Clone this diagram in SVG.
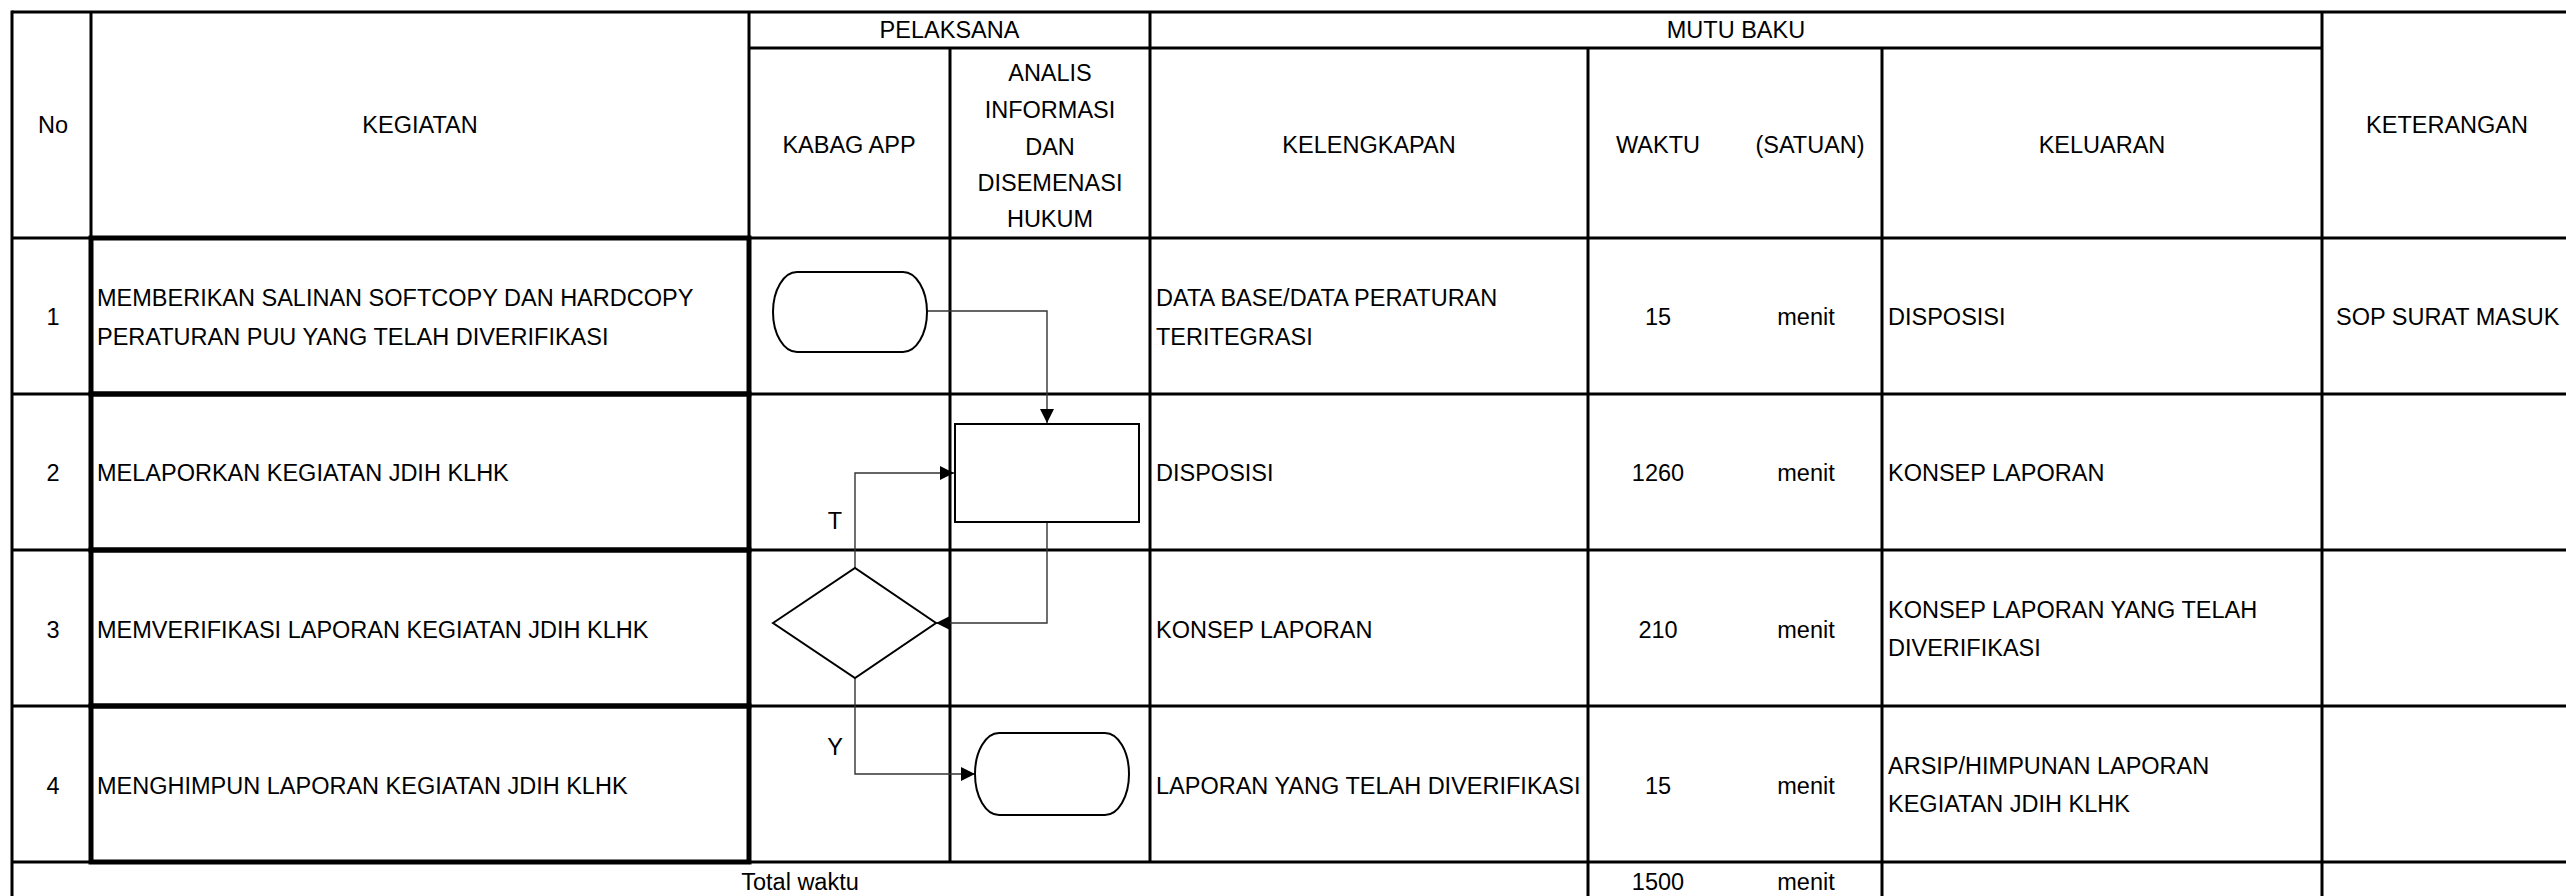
<svg xmlns="http://www.w3.org/2000/svg" width="2566" height="896" viewBox="0 0 2566 896">
<style>
text{font-family:"Liberation Sans",Arial,sans-serif;font-size:23.5px;fill:#000;dominant-baseline:central}
.c{text-anchor:middle}
.grid{stroke:#000;stroke-width:3;fill:none}
.keg{stroke:#000;stroke-width:5;fill:none}
.shape{stroke:#000;stroke-width:2;fill:#fff}
.conn{stroke:#333;stroke-width:1.4;fill:none}
</style>
<defs>
<marker id="arr" viewBox="0 0 10 10" refX="10" refY="5" markerWidth="15" markerHeight="14" markerUnits="userSpaceOnUse" orient="auto">
<path d="M0,0 L10,5 L0,10 z" fill="#000"/>
</marker>
</defs>
<rect width="2566" height="896" fill="#fff"/>
<g id="grid">
<line class="grid" x1="12" y1="12" x2="2566" y2="12"/>
<line class="grid" x1="12" y1="10.5" x2="12" y2="896"/>
<line class="grid" x1="91" y1="12" x2="91" y2="862"/>
<line class="grid" x1="749" y1="12" x2="749" y2="862"/>
<line class="grid" x1="950" y1="48" x2="950" y2="862"/>
<line class="grid" x1="1150" y1="12" x2="1150" y2="862"/>
<line class="grid" x1="1588" y1="48" x2="1588" y2="896"/>
<line class="grid" x1="1882" y1="48" x2="1882" y2="896"/>
<line class="grid" x1="2322" y1="12" x2="2322" y2="896"/>
<line class="grid" x1="749" y1="48" x2="2322" y2="48"/>
<line class="grid" x1="12" y1="238" x2="2566" y2="238"/>
<line class="grid" x1="12" y1="394" x2="2566" y2="394"/>
<line class="grid" x1="12" y1="550" x2="2566" y2="550"/>
<line class="grid" x1="12" y1="706" x2="2566" y2="706"/>
<line class="grid" x1="12" y1="862" x2="2566" y2="862"/>
<rect class="keg" x="91" y="238" width="658" height="156"/>
<rect class="keg" x="91" y="394" width="658" height="156"/>
<rect class="keg" x="91" y="550" width="658" height="156"/>
<rect class="keg" x="91" y="706" width="658" height="156"/>
</g>
<g id="header">
<text class="c" x="53" y="125">No</text>
<text class="c" x="420" y="125">KEGIATAN</text>
<text class="c" x="949.5" y="30">PELAKSANA</text>
<text class="c" x="1736" y="30">MUTU BAKU</text>
<text class="c" x="849" y="145">KABAG APP</text>
<text class="c" x="1050" y="73">ANALIS</text>
<text class="c" x="1050" y="110">INFORMASI</text>
<text class="c" x="1050" y="147">DAN</text>
<text class="c" x="1050" y="183">DISEMENASI</text>
<text class="c" x="1050" y="219">HUKUM</text>
<text class="c" x="1369" y="145">KELENGKAPAN</text>
<text class="c" x="1658" y="145">WAKTU</text>
<text class="c" x="1810" y="145">(SATUAN)</text>
<text class="c" x="2102" y="145">KELUARAN</text>
<text class="c" x="2447" y="125">KETERANGAN</text>
</g>
<g id="row1">
<text class="c" x="53" y="317">1</text>
<text x="97" y="298">MEMBERIKAN SALINAN SOFTCOPY DAN HARDCOPY</text>
<text x="97" y="337">PERATURAN PUU YANG TELAH DIVERIFIKASI</text>
<text x="1156" y="298">DATA BASE/DATA PERATURAN</text>
<text x="1156" y="337">TERITEGRASI</text>
<text class="c" x="1658" y="317">15</text>
<text class="c" x="1806" y="317">menit</text>
<text x="1888" y="317">DISPOSISI</text>
<text x="2336" y="317">SOP SURAT MASUK</text>
</g>
<g id="row2">
<text class="c" x="53" y="473">2</text>
<text x="97" y="473">MELAPORKAN KEGIATAN JDIH KLHK</text>
<text x="1156" y="473">DISPOSISI</text>
<text class="c" x="1658" y="473">1260</text>
<text class="c" x="1806" y="473">menit</text>
<text x="1888" y="473">KONSEP LAPORAN</text>
</g>
<g id="row3">
<text class="c" x="53" y="630">3</text>
<text x="97" y="630">MEMVERIFIKASI LAPORAN KEGIATAN JDIH KLHK</text>
<text x="1156" y="630">KONSEP LAPORAN</text>
<text class="c" x="1658" y="630">210</text>
<text class="c" x="1806" y="630">menit</text>
<text x="1888" y="610">KONSEP LAPORAN YANG TELAH</text>
<text x="1888" y="648">DIVERIFIKASI</text>
</g>
<g id="row4">
<text class="c" x="53" y="786">4</text>
<text x="97" y="786">MENGHIMPUN LAPORAN KEGIATAN JDIH KLHK</text>
<text x="1156" y="786">LAPORAN YANG TELAH DIVERIFIKASI</text>
<text class="c" x="1658" y="786">15</text>
<text class="c" x="1806" y="786">menit</text>
<text x="1888" y="766">ARSIP/HIMPUNAN LAPORAN</text>
<text x="1888" y="804">KEGIATAN JDIH KLHK</text>
</g>
<g id="total">
<text class="c" x="800" y="882">Total waktu</text>
<text class="c" x="1658" y="882">1500</text>
<text class="c" x="1806" y="882">menit</text>
</g>
<g id="connectors">
<path class="conn" d="M927,311 H1047 V423" marker-end="url(#arr)"/>
<path class="conn" d="M1047,522 V623 H936" marker-end="url(#arr)"/>
<path class="conn" d="M855,568 V473 H954" marker-end="url(#arr)"/>
<path class="conn" d="M855,678 V774 H975" marker-end="url(#arr)"/>
<text class="c" x="835" y="521">T</text>
<text class="c" x="835" y="747">Y</text>
</g>
<g id="start">
<rect class="shape" x="773" y="272" width="154" height="80" rx="24" ry="40"/>
</g>
<g id="process">
<rect class="shape" x="955" y="424" width="184" height="98"/>
</g>
<g id="decision">
<polygon class="shape" points="773,623 855,568 936,623 855,678"/>
</g>
<g id="end">
<rect class="shape" x="975" y="733" width="154" height="82" rx="24" ry="41"/>
</g>
</svg>
